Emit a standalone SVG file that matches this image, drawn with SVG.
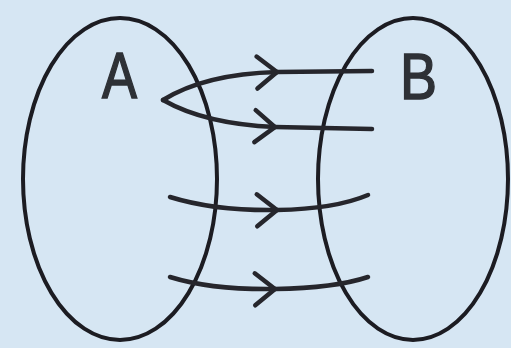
<svg xmlns="http://www.w3.org/2000/svg" width="511" height="348" viewBox="0 0 511 348">
<defs>
<style>
.set{fill:none;stroke:#1c1c22;stroke-width:4}
.arr{fill:none;stroke:#26262c;stroke-width:4.5;stroke-linecap:round}
.lbl{font-family:"Liberation Sans",Arial,sans-serif;font-size:64px;fill:#2e3136;stroke:#2e3136;stroke-width:1.5}
</style>
<marker id="open" markerUnits="userSpaceOnUse" markerWidth="40" markerHeight="40" viewBox="-24 -20 28 40" refX="0" refY="0" orient="auto" overflow="visible">
<path d="M-20,-16 L0,0 L-20,16" fill="none" stroke="#26262c" stroke-width="4.5" stroke-linecap="round" stroke-linejoin="miter"/>
</marker>
</defs>
<rect width="511" height="348" fill="#d6e6f3"/>
<g id="setA">
<ellipse class="set" cx="120" cy="179" rx="97" ry="161"/>
<text class="lbl" x="102" y="98" textLength="35" lengthAdjust="spacingAndGlyphs">A</text>
</g>
<g id="setB">
<ellipse class="set" cx="413" cy="179" rx="95" ry="161"/>
<text class="lbl" x="400" y="99" textLength="37" lengthAdjust="spacingAndGlyphs">B</text>
</g>
<g id="connectors">
<path class="arr" d="M163,100 Q205,74 277,72" marker-end="url(#open)"/>
<path class="arr" d="M277,72 L372,71"/>
<path class="arr" d="M163,100 Q205,124 275,127" marker-end="url(#open)"/>
<path class="arr" d="M275,127 L372,129"/>
<path class="arr" d="M170,197 Q215,211 277,210" marker-end="url(#open)"/>
<path class="arr" d="M277,210 Q335,209 368,195"/>
<path class="arr" d="M170,277 Q212,290 275,289" marker-end="url(#open)"/>
<path class="arr" d="M275,289 Q335,288 368,277"/>
</g>
</svg>
